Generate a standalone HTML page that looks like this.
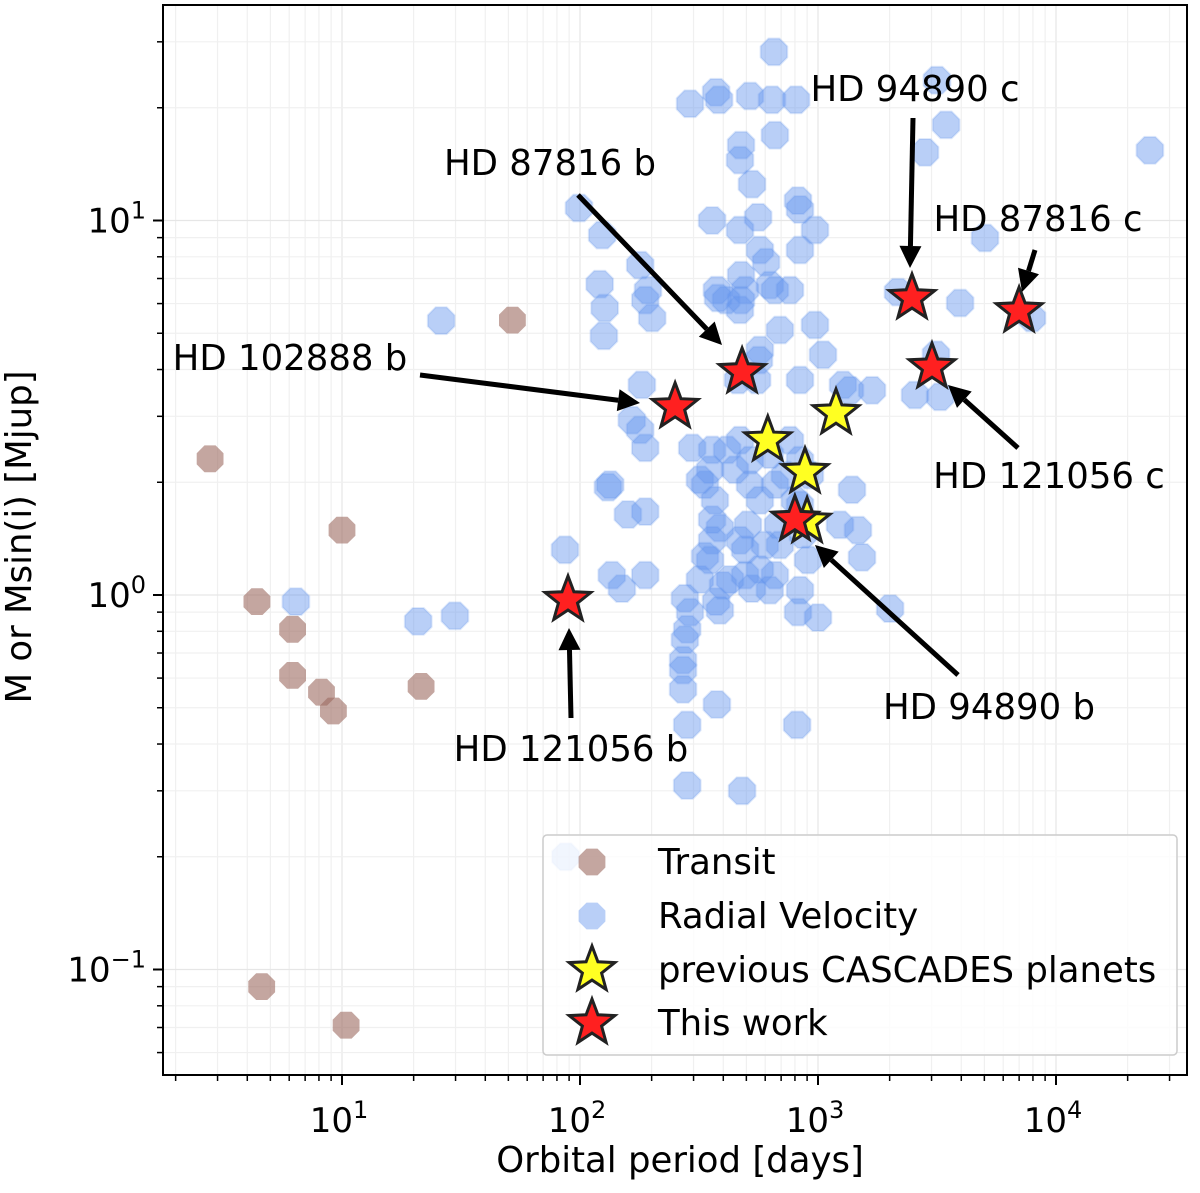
<!DOCTYPE html>
<html><head><meta charset="utf-8"><style>
html,body{margin:0;padding:0;background:#fff;}
svg{display:block;font-family:"DejaVu Sans","Liberation Sans",sans-serif;}
</style></head><body>
<svg id="chart" width="1200" height="1193" viewBox="0 0 1200 1193" xmlns="http://www.w3.org/2000/svg">
<g id="grid"></g>
<g id="points"></g>
<g id="annot"></g>
<rect x="163" y="5" width="1024" height="1070" fill="none" stroke="#000" stroke-width="2"/>
<g id="axes"></g>
<g id="legend"></g>
<text x="680" y="1172" font-size="35.5" text-anchor="middle">Orbital period [days]</text>
<text transform="translate(31,537) rotate(-90)" font-size="35.5" text-anchor="middle">M or Msin(i) [Mjup]</text>
</svg>
<script>
const transitPeriod=[2.79,4.39,6.2,6.2,8.2,9.2,10,21.5,52,4.6,10.4];
const transitMass=[2.31,0.96,0.81,0.61,0.55,0.49,1.49,0.57,5.42,0.09,0.071];
const rvPeriod=[6.4,20.9,29.8,26.1,86.5,87,99,124,121,127,126,179,188,193,201,182,165,179,188,134,131,159,188,136,150,188,290,373,384,518,641,809,653,470,475,659,824,528,560,470,359,570,605,628,475,494,475,470,376,380,411,659,763,971,840,840,692,971,1050,565,555,461,570,840,1273,1363,1687,2557,3258,3133,3953,5032,3453,2817,3162,24800,7925,2168,1389,1472,1530,1237,2008,1000,817,824,840,659,570,494,598,494,508,387,359,369,359,352,335,319,296,415,470,518,448,518,659,726,628,763,840,925,335,319,276,290,282,276,271,271,271,282,282,376,480,373,387,427,470,679,692,865,908,359,528,628,800,840,570,399,352];
const rvMass=[0.96,0.85,0.88,5.4,1.32,0.2,10.8,9.14,6.76,5.84,4.92,7.6,6.13,6.52,5.49,3.64,2.93,2.76,2.47,1.97,1.94,1.64,1.67,1.13,1.04,1.13,20.5,22.0,21.0,21.5,21.0,21.0,28.2,14.5,15.9,16.9,11.3,12.5,10.2,9.43,10,8.34,7.74,6.72,7.15,6.52,6.13,5.77,6.52,6.21,6.13,6.52,6.52,9.43,10.7,8.34,5.10,5.26,4.38,4.24,3.75,3.75,4.51,3.75,3.64,3.52,3.52,3.42,3.38,4.38,6.02,8.98,18.0,15.2,23.7,15.4,5.49,6.44,1.91,1.49,1.26,1.54,0.92,0.87,0.45,0.90,1.03,1.13,1.17,1.13,1.36,1.32,1.54,1.51,1.59,1.79,2.44,2.16,1.97,2.03,2.47,2.44,2.59,2.29,2.16,1.97,1.97,2.09,2.37,2.59,2.29,2.09,1.27,1.10,0.98,0.90,0.81,0.76,0.67,0.63,0.56,0.45,0.31,0.51,0.30,0.96,0.91,1.10,1.40,1.54,1.36,1.45,1.24,1.40,1.04,1.03,1.79,1.74,1.79,1.06,1.24];
const prevPeriod=[615,1190,882,900];
const prevMass=[2.59,3.06,2.13,1.57];
const thisNames=["HD 87816 b","HD 102888 b","HD 94890 c","HD 87816 c","HD 121056 c","HD 94890 b","HD 121056 b"];
const thisPeriod=[480,251,2483,7000,3013,800,89];
const thisMass=[3.94,3.18,6.21,5.73,4.06,1.59,0.97];
const xTicks=[1,2,3,4];
const yTicks=[-1,0,1];

const NS="http://www.w3.org/2000/svg";
const L=163,R=1187,T=5,B=1075;
function xs(p){return 104+238*Math.log10(p);}
function ys(m){return 595-374.5*Math.log10(m);}
function mk(tag,attrs,parent){const e=document.createElementNS(NS,tag);for(const k in attrs)e.setAttribute(k,attrs[k]);parent.appendChild(e);return e;}
const grid=document.getElementById('grid'),pts=document.getElementById('points'),ax=document.getElementById('axes');

for(let d=0;d<=4;d++){for(let k=1;k<10;k++){const x=xs(k*Math.pow(10,d));if(x<L||x>R)continue;
 const g=mk('line',{x1:x,x2:x,y1:T,y2:B,stroke:k==1?'#e6e6e6':'#f0f0f0','stroke-width':1.2},grid);
 
 
 const t=mk('line',{x1:x,x2:x,y1:B,y2:B+(k==1?10:6),stroke:'#000','stroke-width':k==1?2:1.5},ax);
 
 }}
for(let d=-2;d<=1;d++){for(let k=1;k<10;k++){const y=ys(k*Math.pow(10,d));if(y<T||y>B)continue;
 const g=mk('line',{x1:L,x2:R,y1:y,y2:y,stroke:k==1?'#e6e6e6':'#f0f0f0','stroke-width':1.2},grid);
 
 
 const t=mk('line',{x1:L-(k==1?10:6),x2:L,y1:y,y2:y,stroke:'#000','stroke-width':k==1?2:1.5},ax);
 
 }}
xTicks.forEach(e=>{const x=xs(Math.pow(10,e));
 const t=mk('text',{x:x-3,y:1132,'font-size':34,'text-anchor':'middle'},ax);
 
 
 t.innerHTML='10<tspan dy="-14" font-size="24">'+e+'</tspan>';});
yTicks.forEach(e=>{const y=ys(Math.pow(10,e));
 const t=mk('text',{x:146,y:y+12,'font-size':34,'text-anchor':'end'},ax);
 
 
 t.innerHTML='10<tspan dy="-14" font-size="24">'+(e<0?'\u2212'+(-e):e)+'</tspan>';});

function oct(cx,cy,r){let s='';for(let i=0;i<8;i++){const a=Math.PI/8+i*Math.PI/4;s+=(cx+r*Math.cos(a)).toFixed(1)+','+(cy+r*Math.sin(a)).toFixed(1)+' ';}return s;}
function star(cx,cy,r){let s='';for(let i=0;i<10;i++){const rr=i%2?r*0.42:r;const a=-Math.PI/2+i*Math.PI/5;s+=(cx+rr*Math.cos(a)).toFixed(1)+','+(cy+rr*Math.sin(a)).toFixed(1)+' ';}return s;}

rvPeriod.forEach((p,i)=>{const e=mk('polygon',{points:oct(xs(p),ys(rvMass[i]),14.5),fill:'#6495ed','fill-opacity':0.45,'stroke':'#6495ed','stroke-opacity':0.2,'stroke-width':2,'stroke-linejoin':'round'},pts);
 
 });
transitPeriod.forEach((p,i)=>{const e=mk('polygon',{points:oct(xs(p),ys(transitMass[i]),14.5),fill:'#9c6a60','fill-opacity':0.6},pts);
 
 });
prevPeriod.forEach((p,i)=>{const e=mk('polygon',{points:star(xs(p),ys(prevMass[i]),24),fill:'#ffff22',stroke:'#222','stroke-width':3,'stroke-linejoin':'miter'},pts);
 
 });
thisPeriod.forEach((p,i)=>{const e=mk('polygon',{points:star(xs(p),ys(thisMass[i]),24),fill:'#ff2020',stroke:'#222','stroke-width':3},pts);
 
 });

const an=document.getElementById('annot');
const labels=[["HD 94890 c",915,100,913,118,910,268],["HD 87816 b",550,174,578,195,722,345],["HD 87816 c",1038,230,1035,250,1022,292],["HD 102888 b",290,369,420,375,640,403],["HD 121056 c",1049,487,1018,448,948,385],["HD 94890 b",989,718,958,675,815,545],["HD 121056 b",571,760,571,718,569,628]];
labels.forEach(l=>{const t=mk('text',{x:l[1],y:l[2]+1,'font-size':35.5,'text-anchor':'middle'},an);
 
 
 t.textContent=l[0];
 const [x1,y1,x2,y2]=[l[3],l[4],l[5],l[6]];const a=Math.atan2(y2-y1,x2-x1);const h=22,w=11;
 const bx=x2-h*Math.cos(a),by=y2-h*Math.sin(a);
 const ln=mk('line',{x1:x1,y1:y1,x2:bx,y2:by,stroke:'#000','stroke-width':5},an);
 
 
 const hd=mk('polygon',{points:`${x2},${y2} ${bx+w*Math.sin(a)},${by-w*Math.cos(a)} ${bx-w*Math.sin(a)},${by+w*Math.cos(a)}`,fill:'#000'},an);
 
 });

const lg=document.getElementById('legend');
const box=mk('rect',{x:543,y:835,width:634,height:220,rx:4,fill:'#fff','fill-opacity':0.8,stroke:'#ccc','stroke-width':1.5},lg);


const entries=[["Transit",862],["Radial Velocity",916],["previous CASCADES planets",970],["This work",1023]];
entries.forEach((en,i)=>{const y=en[1];let m;
 if(i==0)m=mk('polygon',{points:oct(592,y,14.5),fill:'#9c6a60','fill-opacity':0.6},lg);
 else if(i==1)m=mk('polygon',{points:oct(592,y,14.5),fill:'#6495ed','fill-opacity':0.45},lg);
 else m=mk('polygon',{points:star(592,y,24),fill:i==2?'#ffff22':'#ff2020',stroke:'#222','stroke-width':3},lg);
 
 
 const t=mk('text',{x:658,y:y+12,'font-size':35.5},lg);
 
 
 t.textContent=en[0];});
</script>
</body></html>
